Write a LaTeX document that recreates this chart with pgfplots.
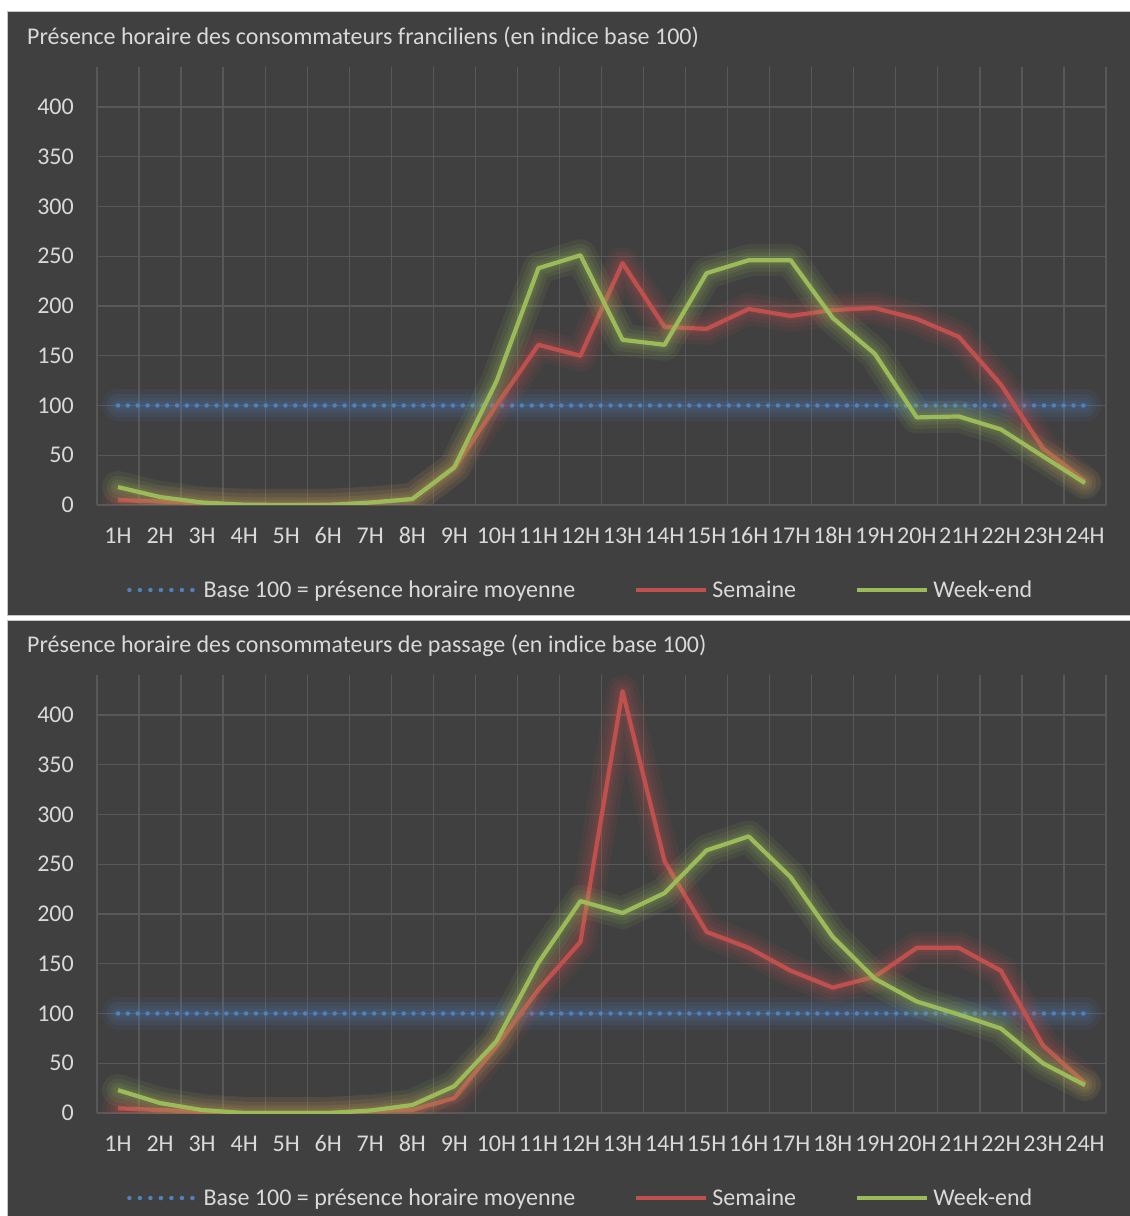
\documentclass[border=0pt]{standalone}
\usepackage{pgfplots}
\pgfplotsset{compat=1.18}
\usepackage{pgfplotstable}
\usepackage{fontspec}
\setmainfont{Carlito}
\definecolor{bg}{HTML}{404040}
\definecolor{gridc}{HTML}{585858}
\definecolor{txt}{HTML}{D9D9D9}
\definecolor{bl}{HTML}{4F81BD}
\definecolor{rd}{HTML}{C0504D}
\definecolor{gr}{HTML}{9BBB59}

\pgfplotstableread{
h sem we base
1 5 18 100
2 3.5 8 100
3 1.5 2.5 100
4 0.3 0.3 100
5 0 0 100
6 0.5 0 100
7 2 2.5 100
8 6 6 100
9 37 38 100
10 100 124 100
11 161 238 100
12 150 251 100
13 243 166 100
14 179 161 100
15 177 233 100
16 197 246 100
17 190 246 100
18 196 188 100
19 198 152 100
20 187 88 100
21 169 89 100
22 121 76 100
23 57 49 100
24 24 22 100
}\franc

\pgfplotstableread{
h sem we base
1 4.7 23 100
2 3 10 100
3 1.3 3 100
4 0 0 100
5 0 0 100
6 0 0 100
7 2 2.5 100
8 3 8 100
9 15 27 100
10 67 72 100
11 124 151 100
12 172 213 100
13 424 201 100
14 253 221 100
15 182 264 100
16 166 278 100
17 143 237 100
18 126 177 100
19 137 135 100
20 166 112 100
21 166 99 100
22 143 85 100
23 68 50 100
24 30 28 100
}\pass

\newcommand{\fnt}{\fontsize{24}{28}\selectfont}

\newcommand{\glowplot}[3]{%
  \addplot[#1, opacity=0.09, line width=32pt, line join=round, line cap=round, forget plot] table[x=h,y=#3]{#2};
  \addplot[#1, opacity=0.10, line width=23pt, line join=round, line cap=round, forget plot] table[x=h,y=#3]{#2};
  \addplot[#1, opacity=0.11, line width=15pt, line join=round, line cap=round, forget plot] table[x=h,y=#3]{#2};
  \addplot[#1, opacity=0.11, line width=9pt, line join=round, line cap=round, forget plot] table[x=h,y=#3]{#2};
}

\pgfplotsset{
  panel/.style={
    scale only axis, width=1009pt, height=437.8pt,
    xmin=0.5, xmax=24.5, ymin=0, ymax=440,
    xtick={1,...,24},
    xticklabels={1H,2H,3H,4H,5H,6H,7H,8H,9H,10H,11H,12H,13H,14H,15H,16H,17H,18H,19H,20H,21H,22H,23H,24H},
    minor xtick={0.5,1.5,...,24.5},
    ytick={0,50,...,400},
    xmajorgrids=false, xminorgrids=true, ymajorgrids=true,
    major grid style={gridc, line width=1.3pt},
    minor grid style={gridc, line width=1.3pt},
    axis line style={draw=none},
    major tick length=0pt, minor tick length=0pt,
    tick style={draw=none},
    ticklabel style={font=\fnt, text=txt, inner sep=0pt},
    xticklabel style={anchor=base, yshift=-38.5pt},
    yticklabel style={anchor=east, xshift=-23pt},
    /pgf/number format/assume math mode=true,
    legend columns=3,
    legend style={draw=none, fill=none, font=\fnt, text=txt, inner sep=0pt,
      at={(0.0297,-0.1942)}, anchor=west,
      nodes={inner xsep=4pt, inner ysep=0pt},
      /tikz/every even column/.append style={column sep=55pt}},
  },
  baseline/.style={bl, line width=4.5pt, line cap=round, dash pattern=on 0pt off 9.85pt,
    legend image code/.code={\draw[bl, line width=4.5pt, line cap=round, dash pattern=on 0pt off 10.5pt] (0pt,0pt) -- (68pt,0pt);}},
  serie/.style={#1, line width=4.2pt, line join=round,
    legend image code/.code={\draw[#1, line width=4.2pt] (0pt,0pt) -- (70pt,0pt);}},
}

\begin{document}
\begin{tikzpicture}
\path[use as bounding box] (0,0) rectangle (1130pt,1216pt);
\fill[white] (0,0) rectangle (1130pt,1216pt);
\filldraw[fill=bg, draw=gray!45, line width=1pt] (7pt,600pt) rectangle (1136pt,1204pt);
\filldraw[fill=bg, draw=gray!45, line width=1pt] (7pt,-6pt) rectangle (1136pt,595pt);

\node[anchor=base west, text=txt, font=\fnt, inner sep=0pt] at (27pt,1171pt)
  {Présence horaire des consommateurs franciliens (en indice base 100)};
\node[anchor=base west, text=txt, font=\fnt, inner sep=0pt] at (27pt,563pt)
  {Présence horaire des consommateurs de passage (en indice base 100)};

\begin{axis}[panel, at={(97pt,711pt)}, anchor=south west]
  \glowplot{bl}{\franc}{base}
  \addplot[baseline] table[x=h,y=base]{\franc};
  \addlegendentry{Base 100 = présence horaire moyenne}
  \glowplot{rd}{\franc}{sem}
  \addplot[serie=rd] table[x=h,y=sem]{\franc};
  \addlegendentry{Semaine}
  \glowplot{gr}{\franc}{we}
  \addplot[serie=gr] table[x=h,y=we]{\franc};
  \addlegendentry{Week-end}
\end{axis}

\begin{axis}[panel, at={(97pt,103pt)}, anchor=south west]
  \glowplot{bl}{\pass}{base}
  \addplot[baseline] table[x=h,y=base]{\pass};
  \addlegendentry{Base 100 = présence horaire moyenne}
  \glowplot{rd}{\pass}{sem}
  \addplot[serie=rd] table[x=h,y=sem]{\pass};
  \addlegendentry{Semaine}
  \glowplot{gr}{\pass}{we}
  \addplot[serie=gr] table[x=h,y=we]{\pass};
  \addlegendentry{Week-end}
\end{axis}
\end{tikzpicture}
\end{document}
